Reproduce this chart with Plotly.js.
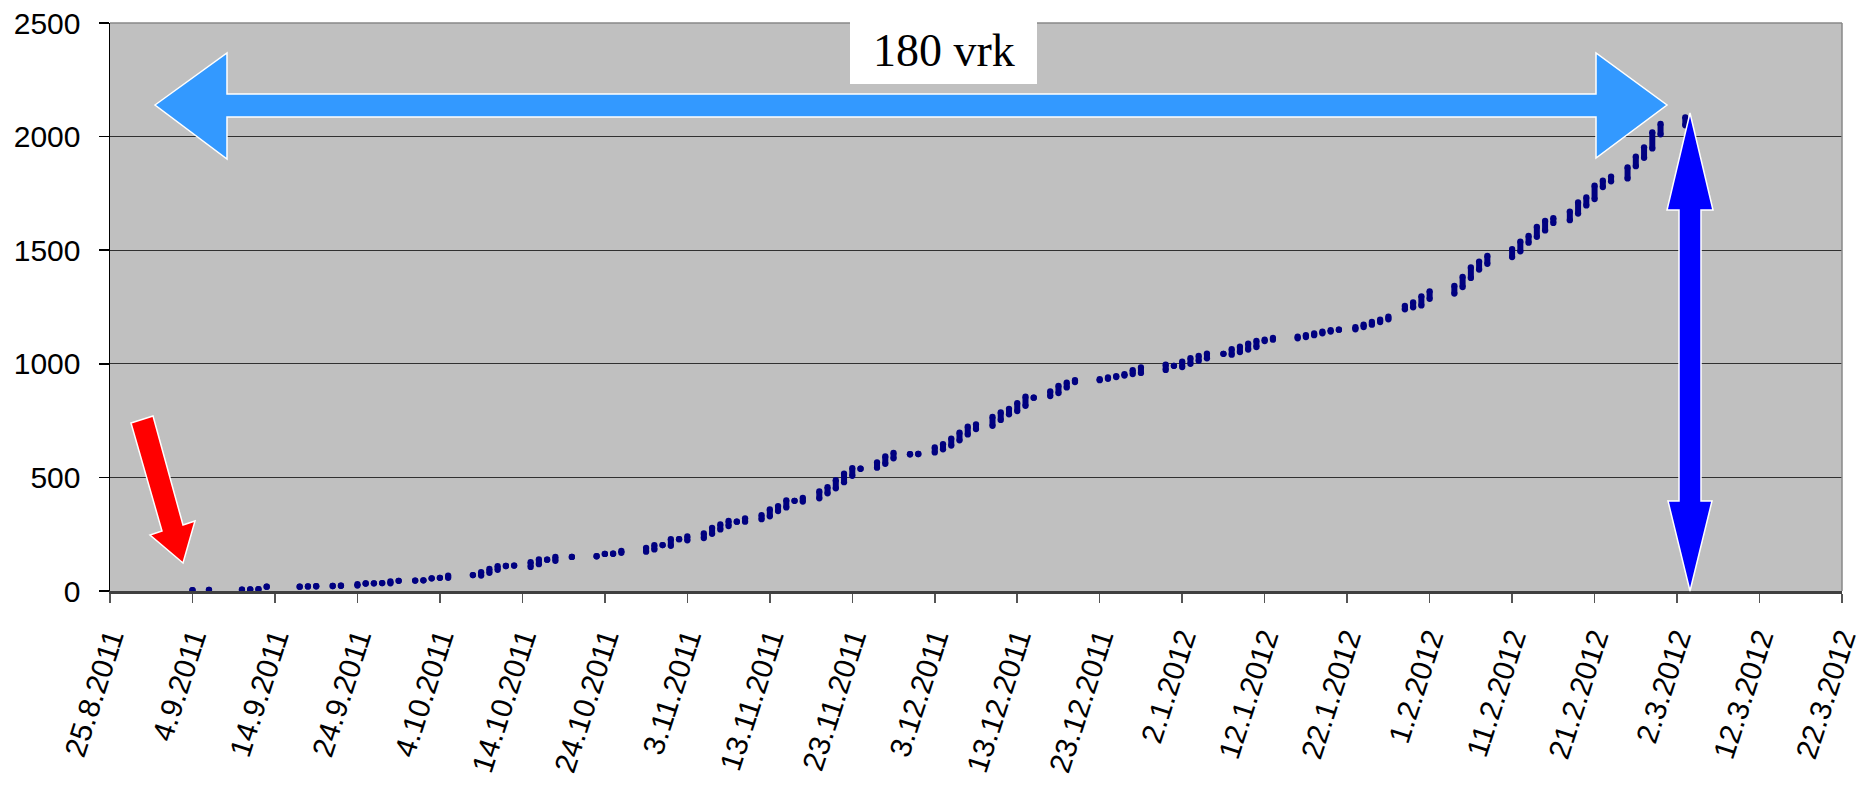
<!DOCTYPE html>
<html>
<head>
<meta charset="utf-8">
<script src="https://cdn.plot.ly/plotly-3.0.1.min.js"></script>
<style>
  html, body { margin: 0; padding: 0; background: #ffffff; }
  #chart { width: 1863px; height: 785px; }
</style>
</head>
<body>
<div id="chart"></div>
<script>
// ---- data: for each day, lowest and highest cumulative count ----
const dates = [
  '2011-09-04','2011-09-06','2011-09-10','2011-09-11','2011-09-12','2011-09-13','2011-09-17','2011-09-18',
  '2011-09-19','2011-09-21','2011-09-22','2011-09-24','2011-09-25','2011-09-26','2011-09-27','2011-09-28',
  '2011-09-29','2011-10-01','2011-10-02','2011-10-03','2011-10-04','2011-10-05','2011-10-08','2011-10-09',
  '2011-10-10','2011-10-11','2011-10-12','2011-10-13','2011-10-15','2011-10-16','2011-10-17','2011-10-18',
  '2011-10-20','2011-10-23','2011-10-24','2011-10-25','2011-10-26','2011-10-29','2011-10-30','2011-10-31',
  '2011-11-01','2011-11-02','2011-11-03','2011-11-05','2011-11-06','2011-11-07','2011-11-08','2011-11-09',
  '2011-11-10','2011-11-12','2011-11-13','2011-11-14','2011-11-15','2011-11-16','2011-11-17','2011-11-19',
  '2011-11-20','2011-11-21','2011-11-22','2011-11-23','2011-11-24','2011-11-26','2011-11-27','2011-11-28',
  '2011-11-30','2011-12-01','2011-12-03','2011-12-04','2011-12-05','2011-12-06','2011-12-07','2011-12-08',
  '2011-12-10','2011-12-11','2011-12-12','2011-12-13','2011-12-14','2011-12-15','2011-12-17','2011-12-18',
  '2011-12-19','2011-12-20','2011-12-23','2011-12-24','2011-12-25','2011-12-26','2011-12-27','2011-12-28',
  '2011-12-31','2012-01-01','2012-01-02','2012-01-03','2012-01-04','2012-01-05','2012-01-07','2012-01-08',
  '2012-01-09','2012-01-10','2012-01-11','2012-01-12','2012-01-13','2012-01-16','2012-01-17','2012-01-18',
  '2012-01-19','2012-01-20','2012-01-21','2012-01-23','2012-01-24','2012-01-25','2012-01-26','2012-01-27',
  '2012-01-29','2012-01-30','2012-01-31','2012-02-01','2012-02-04','2012-02-05','2012-02-06','2012-02-07',
  '2012-02-08','2012-02-11','2012-02-12','2012-02-13','2012-02-14','2012-02-15','2012-02-16','2012-02-18',
  '2012-02-19','2012-02-20','2012-02-21','2012-02-22','2012-02-23','2012-02-25','2012-02-26','2012-02-27',
  '2012-02-28','2012-02-29','2012-03-03'
];
const lowCount = [
  4,5,6,7,8,19,19,20,
  21,22,23,24,33,34,35,34,
  45,46,47,56,58,58,70,68,
  80,93,110,112,106,118,138,133,
  150,153,163,164,168,173,183,202,
  199,228,223,233,252,271,286,305,
  305,316,329,352,368,397,394,408,
  430,452,479,507,538,543,560,584,
  602,603,610,624,640,663,689,713,
  727,753,778,792,815,851,858,871,
  896,920,928,934,942,948,955,960,
  973,991,986,1000,1013,1024,1044,1040,
  1052,1063,1074,1100,1106,1112,1118,1126,
  1134,1142,1150,1152,1162,1172,1184,1196,
  1240,1249,1257,1286,1309,1338,1378,1415,
  1440,1470,1495,1533,1559,1587,1620,1632,
  1661,1697,1725,1778,1803,1816,1870,1907,
  1948,2010,2050
];
const highCount = [
  4,5,6,7,8,19,19,20,
  21,22,23,30,33,34,35,42,
  45,46,47,56,58,68,70,83,
  97,109,110,112,127,139,138,150,
  150,153,163,164,176,190,202,202,
  228,228,240,253,278,293,308,305,
  320,334,359,374,399,397,410,438,
  457,488,516,541,538,566,592,608,
  602,603,632,646,671,697,723,733,
  766,786,802,827,855,851,878,903,
  917,928,932,940,946,954,972,984,
  996,991,1010,1025,1035,1045,1044,1065,
  1075,1089,1101,1106,1114,1120,1126,1134,
  1142,1148,1150,1161,1172,1184,1194,1208,
  1255,1270,1297,1319,1343,1383,1424,1450,
  1475,1505,1538,1563,1603,1629,1641,1670,
  1710,1732,1784,1806,1824,1864,1912,1953,
  2019,2056,2085
];
const yTicks = [0, 500, 1000, 1500, 2000, 2500];
const xStart = '2011-08-25';
const xEnd = '2012-03-22';
const tickStepDays = 10;
const labelDays = '180 vrk';

// ---- build vertical stacks (one segment per day) ----
const xs = [], ys = [];
for (let i = 0; i < dates.length; i++) {
  xs.push(dates[i], dates[i], null);
  ys.push(lowCount[i], highCount[i], null);
}

const trace = {
  type: 'scatter',
  mode: 'lines+markers',
  x: xs, y: ys,
  connectgaps: false,
  line: { color: '#000080', width: 6 },
  marker: { color: '#000080', size: 6.3 },
  hoverinfo: 'x+y',
  showlegend: false
};

// ---- plot area pixel frame, used to place the drawn arrows ----
const W = 1863, H = 785;
const PL = 110, PR = 1842, PT = 23, PB = 591;
function fx(x) { return (x - PL) / (PR - PL); }
function fy(y) { return (PB - y) / (PB - PT); }
function poly(pts) { return 'M' + pts.map(p => fx(p[0]).toFixed(5) + ',' + fy(p[1]).toFixed(5)).join(' L') + ' Z'; }

const shapes = [
  // top and right frame lines
  { type: 'line', xref: 'paper', yref: 'paper', x0: 0, x1: 1, y0: 1, y1: 1, line: { color: '#888888', width: 1.5 }, layer: 'above' },
  { type: 'line', xref: 'paper', yref: 'paper', x0: 1, x1: 1, y0: 0, y1: 1, line: { color: '#888888', width: 1.5 }, layer: 'above' },
  // white label box
  { type: 'rect', xref: 'paper', yref: 'paper', x0: fx(850), x1: fx(1037), y0: fy(84), y1: fy(19), fillcolor: '#ffffff', line: { width: 0 }, layer: 'above' },
  // light blue horizontal double arrow
  { type: 'path', xref: 'paper', yref: 'paper', layer: 'above',
    path: poly([[155,105],[227,53],[227,94],[1596,94],[1596,53],[1667,105],[1596,158],[1596,117],[227,117],[227,159]]),
    fillcolor: '#3399FF', line: { color: '#ffffff', width: 1.5 } },
  // red arrow
  { type: 'path', xref: 'paper', yref: 'paper', layer: 'above',
    path: poly([[131,423],[153,416],[183,525],[195,521],[183,563],[150,535],[162,531]]),
    fillcolor: '#FF0000', line: { color: '#ffffff', width: 1.5 } },
  // blue vertical double arrow
  { type: 'path', xref: 'paper', yref: 'paper', layer: 'above',
    path: poly([[1690,113],[1713,210],[1701,210],[1701,501],[1712,501],[1690,591],[1668,501],[1679,501],[1679,210],[1667,210]]),
    fillcolor: '#0000FF', line: { color: '#ffffff', width: 1.5 } }
];

const layout = {
  width: W, height: H,
  margin: { l: PL, r: W - PR, t: PT, b: H - PB, pad: 0 },
  paper_bgcolor: '#ffffff',
  plot_bgcolor: '#c0c0c0',
  font: { family: 'Liberation Sans, Arial, sans-serif', size: 30, color: '#000000' },
  showlegend: false,
  xaxis: {
    type: 'date',
    range: [xStart, xEnd],
    tick0: xStart,
    dtick: tickStepDays * 86400000,
    tickformat: '%-d.%-m.%Y',
    tickangle: -72,
    ticks: 'outside', ticklen: 9, tickwidth: 1.5, tickcolor: '#555555',
    showline: true, linecolor: '#404040', linewidth: 2.5,
    showgrid: false, zeroline: false,
    tickfont: { size: 30, color: '#000000' },
    ticklabelstandoff: 6,
    automargin: false,
    fixedrange: true
  },
  yaxis: {
    range: [0, 2500],
    tickmode: 'array', tickvals: yTicks, ticktext: yTicks.map(String),
    ticks: 'outside', ticklen: 10, tickwidth: 1.5, tickcolor: '#000000',
    showline: true, linecolor: '#000000', linewidth: 1.5,
    showgrid: true, gridcolor: '#303030', gridwidth: 1,
    zeroline: false,
    tickfont: { size: 30, color: '#000000' },
    ticklabelstandoff: 12,
    automargin: false,
    fixedrange: true
  },
  shapes: shapes,
  annotations: [{
    xref: 'paper', yref: 'paper', x: fx(944), y: fy(50),
    xanchor: 'center', yanchor: 'middle',
    text: labelDays, showarrow: false,
    font: { family: 'Liberation Serif, Times New Roman, serif', size: 46, color: '#000000' }
  }]
};

Plotly.newPlot('chart', [trace], layout, { displayModeBar: false, staticPlot: true });
</script>
</body>
</html>
